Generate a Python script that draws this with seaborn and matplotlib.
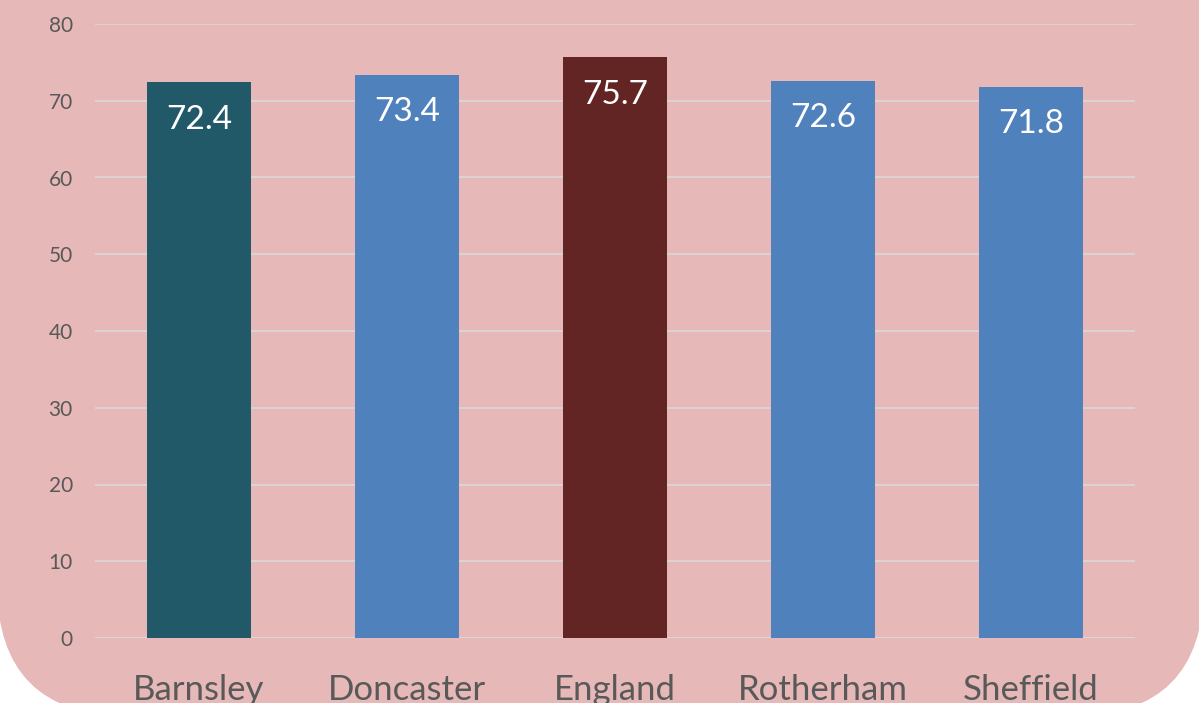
import matplotlib
matplotlib.use("Agg")
import matplotlib.pyplot as plt
import matplotlib.transforms as mtransforms
from matplotlib.patches import FancyBboxPatch
import seaborn as sns
import pandas as pd

# Data
areas = ['Barnsley', 'Doncaster', 'England', 'Rotherham', 'Sheffield']
values = [72.4, 73.4, 75.7, 72.6, 71.8]
bar_colors = ['#215968', '#4F81BD', '#632523', '#4F81BD', '#4F81BD']
y_ticks = [0, 10, 20, 30, 40, 50, 60, 70, 80]

df = pd.DataFrame({'area': areas, 'value': values})

sns.set_theme(style='white')
plt.rcParams['font.family'] = ['Lato', 'DejaVu Sans']

fig = plt.figure(figsize=(11.99, 7.03), dpi=100)
fig.patch.set_facecolor('white')

# pink rounded background card (only bottom corners visible)
card = FancyBboxPatch((-3, -13), 1207, 1200,
                      boxstyle='round,pad=0,rounding_size=132',
                      transform=mtransforms.IdentityTransform(),
                      facecolor='#E7B8B8', edgecolor='none', zorder=-5)
fig.patches.append(card)

ax = fig.add_axes([95 / 1199, 1 - 638 / 703, 1040 / 1199, 614 / 703])
ax.set_facecolor('none')

sns.barplot(data=df, x='area', y='value', hue='area', palette=bar_colors,
            legend=False, width=0.5, saturation=1, linewidth=0, ax=ax, zorder=3)

ax.set_ylim(0, 80)
ax.set_xlim(-0.5, 4.5)
ax.set_yticks(y_ticks)
ax.yaxis.grid(True, color='#D9D9D9', linewidth=1.2, zorder=1)
ax.set_axisbelow(True)
ax.axhline(0, color='#D9D9D9', linewidth=1.2, zorder=2)
for s in ax.spines.values():
    s.set_visible(False)

ax.set_xlabel('')
ax.set_ylabel('')
ax.tick_params(axis='y', length=0, pad=16, labelsize=15, labelcolor='#595959')
ax.tick_params(axis='x', length=0, pad=26, labelsize=25, labelcolor='#595959')

for i, v in enumerate(values):
    ax.annotate(f'{v:.1f}', xy=(i, v), xytext=(0, -27), textcoords='offset points',
                ha='center', va='center', color='white', fontsize=24, zorder=4)

fig.savefig('out.png', dpi=100, facecolor=fig.get_facecolor())
